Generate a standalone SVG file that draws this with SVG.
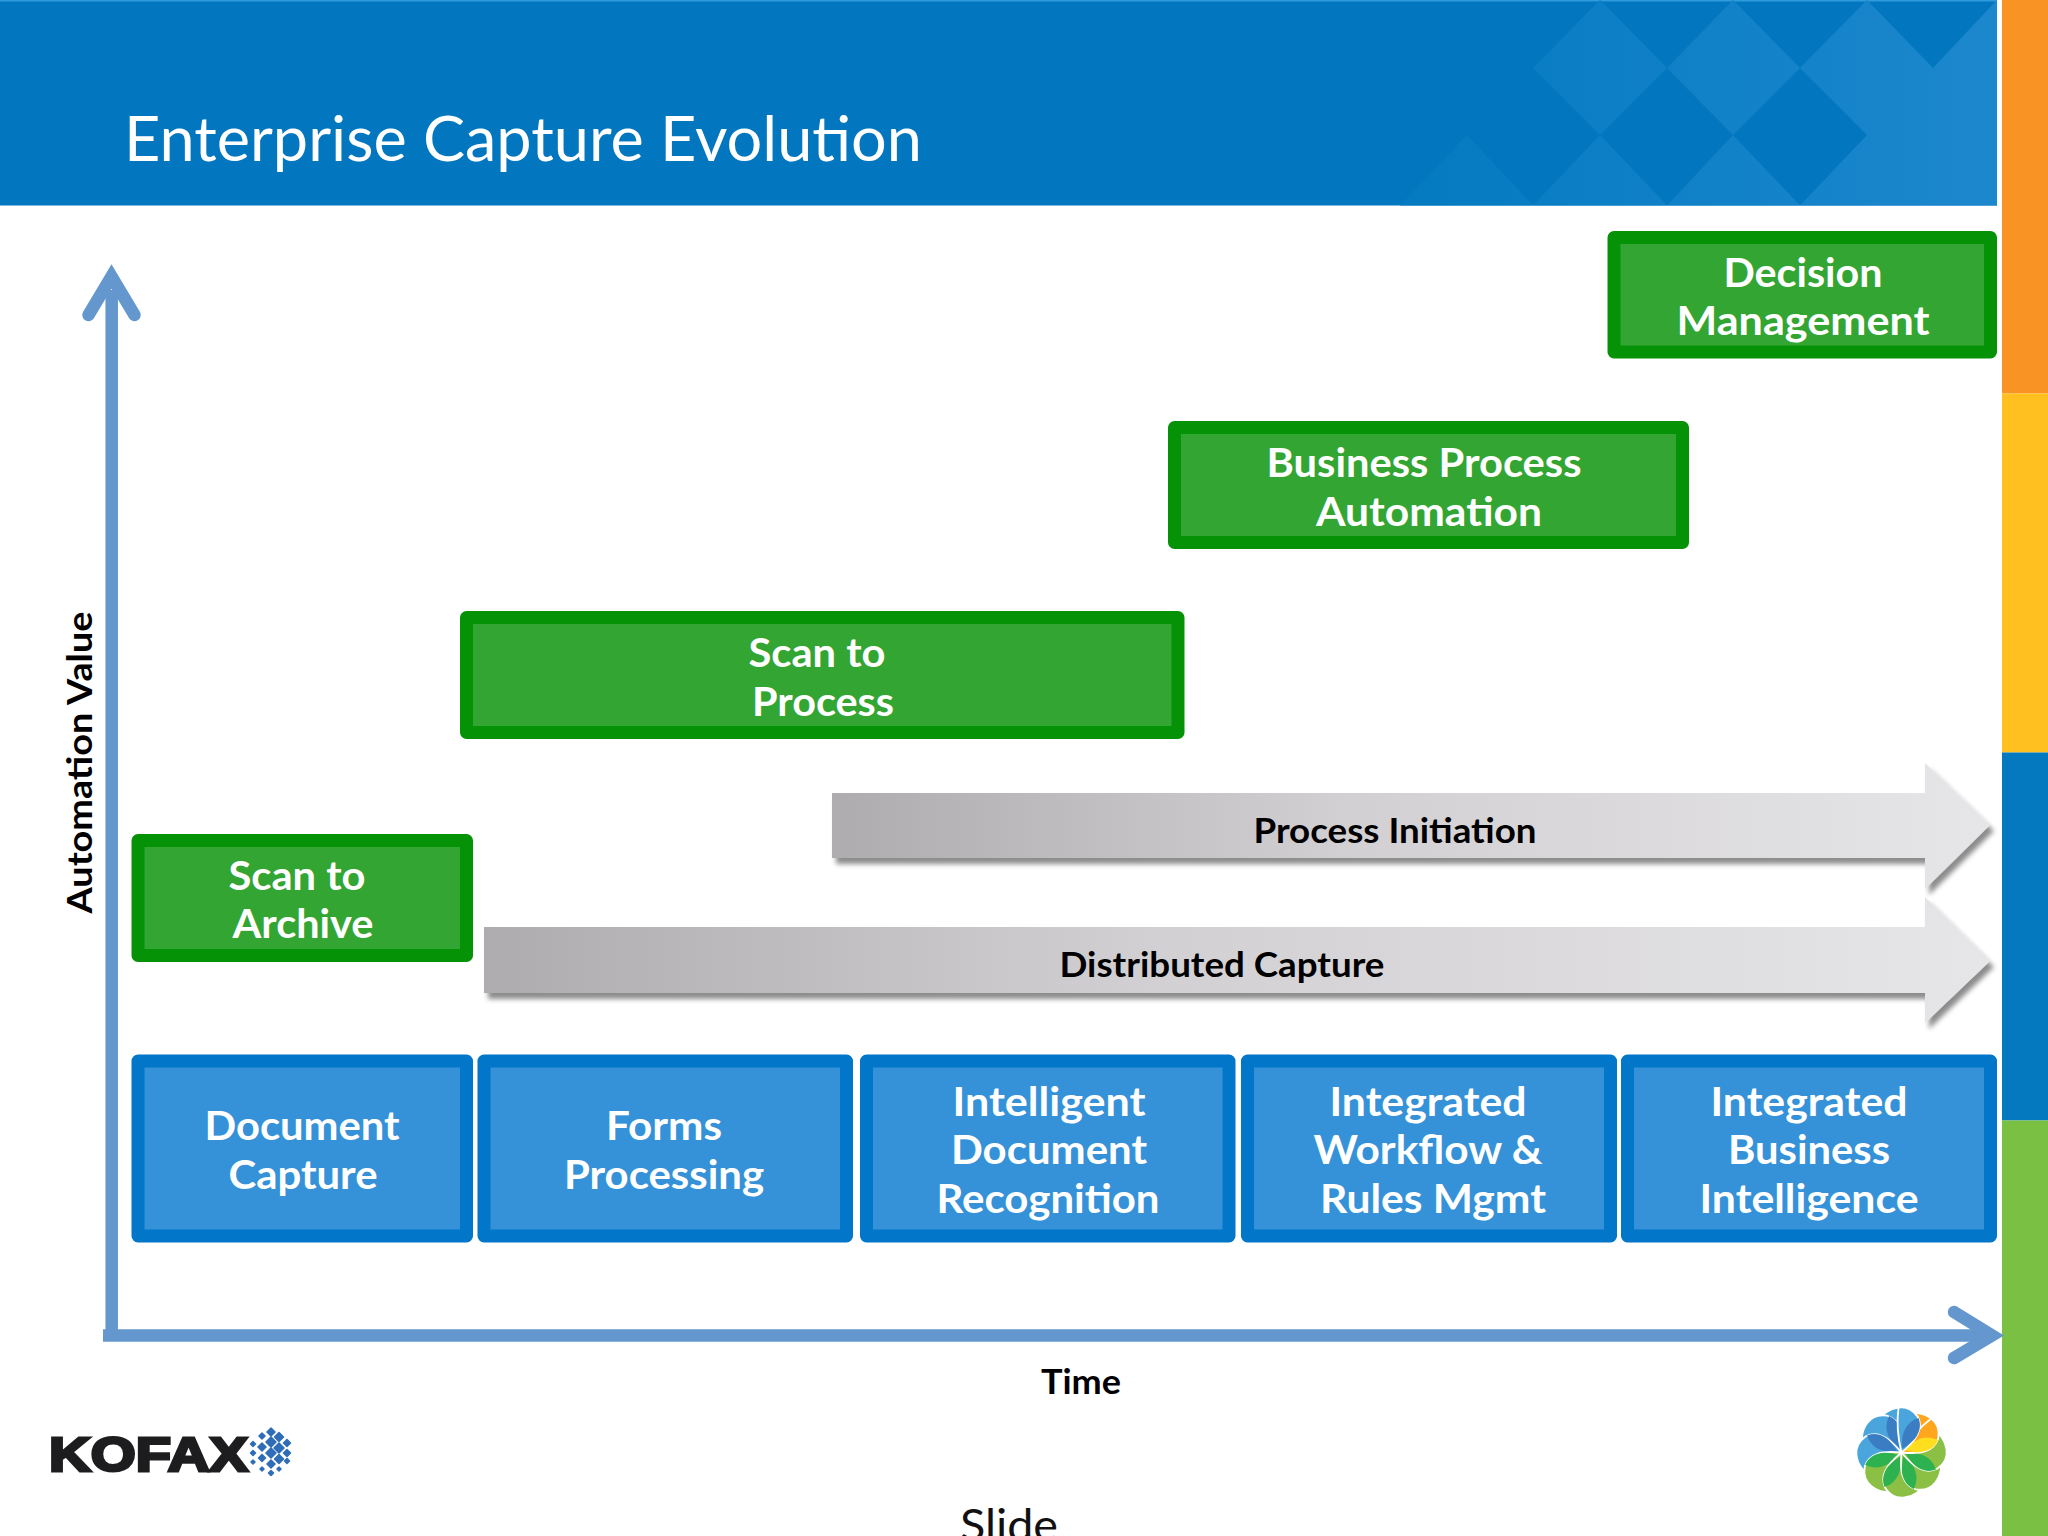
<svg xmlns="http://www.w3.org/2000/svg" width="2048" height="1536" viewBox="0 0 2048 1536">
<defs>
<linearGradient id="band" x1="0" y1="0" x2="1" y2="0"><stop offset="0" stop-color="#AEACAF"/><stop offset="0.45" stop-color="#D2D0D3"/><stop offset="1" stop-color="#E6E5E8"/></linearGradient>
<linearGradient id="hdr" gradientUnits="userSpaceOnUse" x1="1400" y1="0" x2="1997" y2="0"><stop offset="0" stop-color="#047AC1"/><stop offset="0.35" stop-color="#0D7FC6"/><stop offset="1" stop-color="#1C87CD"/></linearGradient>
<filter id="sh" x="-5%" y="-20%" width="110%" height="150%"><feDropShadow dx="4" dy="6" stdDeviation="2.5" flood-color="#000" flood-opacity="0.45"/></filter>
<path id="pf" d="M0,0 C6,-5 13,-11 16,-18 C19,-24 19,-30 16,-36 C11,-43 4,-46 -3,-45 C-12,-44 -20,-38 -24,-30 C-20,-18 -10,-6 0,0Z"/>
<path id="pn" d="M0,0 C6,-5 13,-11 16,-18 C19,-24 19,-30 16,-36 C11,-43 4,-46 -3,-45 C-5,-30 -3,-12 0,0Z"/>
<path id="pl" d="M1,-4 C-1,-16 3,-30 17,-34.500 C19,-29 19,-24 16,-18 C13,-12 7,-8 1,-4Z"/>
</defs>
<style>
text{font-family:Lato,"Liberation Sans",sans-serif}
.g{fill:#33A532;stroke:#069206;stroke-width:13;stroke-linejoin:round}
.b{fill:#3592D8;stroke:#0277C9;stroke-width:13;stroke-linejoin:round}
.t{fill:#fff;font-weight:700;font-size:41px;text-anchor:middle}
.k{fill:#000;font-weight:700;font-size:34px;text-anchor:middle}
.axis{fill:none;stroke:#6397CE;stroke-width:12.5}
.head{stroke-linecap:round;stroke-linejoin:miter}
.hl{fill:url(#hdr)}
.pb use:first-child,.pg use:first-child,.po use:first-child{stroke:#fff;stroke-width:1.8}
.pb{fill:#49A5DC}.pb use+use{fill:#3B7DC2}
.pg{fill:#8CC044}.pg use+use{fill:#2DB24F}
.po{fill:#FFA51E}.po use+use{fill:#FFDD1F}
</style>
<rect width="2048" height="1536" fill="#fff"/>
<g id="header">
<rect x="0" y="0" width="1997" height="205.500" fill="#0277BF"/>
<rect x="0" y="0" width="1997" height="1.500" fill="#2E9BDD"/>
<path class="hl" d="M1533,68 L1600,0 L1667,68 L1600,135Z M1667,68 L1733,0 L1800,68 L1733,135Z M1800,68 L1867,0 L1933,68 L1997,0 L1997,205.500 L1800,205.500 L1867,135 L1800,68Z M1400,205.500 L1467,135 L1533,205.500Z M1533,205.500 L1600,135 L1667,205.500Z M1667,205.500 L1733,135 L1800,205.500Z"/>
<text x="124" y="161" fill="#fff" font-size="62" textLength="798" lengthAdjust="spacingAndGlyphs">Enterprise Capture Evolution</text>
</g>
<g id="side-bar">
<rect x="2002" y="0" width="46" height="393.500" fill="#F99324"/>
<rect x="2002" y="393.500" width="46" height="359" fill="#FFC020"/>
<rect x="2002" y="752.500" width="46" height="368" fill="#0479BF"/>
<rect x="2002" y="1120.500" width="46" height="416" fill="#7AC143"/>
</g>
<g id="connectors">
<path class="axis" d="M111.700,290 V1335"/>
<path class="axis" d="M103,1335.500 H1990"/>
<polyline class="axis head" points="88.500,315 111.500,276.500 134.500,315"/>
<polyline class="axis head" points="1954,1312 1992,1335.500 1954,1358"/>
</g>
<g id="band-process-initiation">
<path filter="url(#sh)" fill="url(#band)" d="M832,793 H1925 V763 L1990,825 L1925,889 V858 H832Z"/>
<text class="k" x="1395" y="843" textLength="283" lengthAdjust="spacingAndGlyphs">Process Initiation</text>
</g>
<g id="band-distributed-capture">
<path filter="url(#sh)" fill="url(#band)" d="M484,927 H1925 V897 L1990,961 L1925,1023 V993 H484Z"/>
<text class="k" x="1222" y="977" textLength="325" lengthAdjust="spacingAndGlyphs">Distributed Capture</text>
</g>
<g id="node-decision-management">
<rect class="g" x="1614" y="237.500" width="376.500" height="114.500"/>
<text class="t" x="1803" y="286.500" textLength="159" lengthAdjust="spacingAndGlyphs">Decision</text>
<text class="t" x="1803" y="334.500" textLength="253" lengthAdjust="spacingAndGlyphs">Management</text>
</g>
<g id="node-business-process-automation">
<rect class="g" x="1174.500" y="427.500" width="508" height="115"/>
<text class="t" x="1424" y="477" textLength="315" lengthAdjust="spacingAndGlyphs">Business Process</text>
<text class="t" x="1429" y="525.500" textLength="226" lengthAdjust="spacingAndGlyphs">Automation</text>
</g>
<g id="node-scan-to-process">
<rect class="g" x="466.500" y="617.500" width="711.500" height="115"/>
<text class="t" x="817" y="667" textLength="137" lengthAdjust="spacingAndGlyphs">Scan to</text>
<text class="t" x="823" y="715.500" textLength="142" lengthAdjust="spacingAndGlyphs">Process</text>
</g>
<g id="node-scan-to-archive">
<rect class="g" x="138" y="840.500" width="328.500" height="115"/>
<text class="t" x="297" y="889.500" textLength="137" lengthAdjust="spacingAndGlyphs">Scan to</text>
<text class="t" x="303" y="938" textLength="141" lengthAdjust="spacingAndGlyphs">Archive</text>
</g>
<g id="node-document-capture">
<rect class="b" x="138" y="1061" width="328.500" height="175"/>
<text class="t" x="302" y="1140" textLength="195" lengthAdjust="spacingAndGlyphs">Document</text>
<text class="t" x="303" y="1188.500" textLength="149" lengthAdjust="spacingAndGlyphs">Capture</text>
</g>
<g id="node-forms-processing">
<rect class="b" x="484" y="1061" width="362.500" height="175"/>
<text class="t" x="664" y="1140" textLength="116" lengthAdjust="spacingAndGlyphs">Forms</text>
<text class="t" x="664" y="1188.500" textLength="200" lengthAdjust="spacingAndGlyphs">Processing</text>
</g>
<g id="node-intelligent-document-recognition">
<rect class="b" x="866.500" y="1061" width="362.500" height="175"/>
<text class="t" x="1049" y="1115.500" textLength="193" lengthAdjust="spacingAndGlyphs">Intelligent</text>
<text class="t" x="1049" y="1164" textLength="196" lengthAdjust="spacingAndGlyphs">Document</text>
<text class="t" x="1048" y="1212.500" textLength="223" lengthAdjust="spacingAndGlyphs">Recognition</text>
</g>
<g id="node-integrated-workflow-rules">
<rect class="b" x="1247.500" y="1061" width="363" height="175"/>
<text class="t" x="1428" y="1115.500" textLength="197" lengthAdjust="spacingAndGlyphs">Integrated</text>
<text class="t" x="1428" y="1164" textLength="229" lengthAdjust="spacingAndGlyphs">Workflow &amp;</text>
<text class="t" x="1433" y="1212.500" textLength="226" lengthAdjust="spacingAndGlyphs">Rules Mgmt</text>
</g>
<g id="node-integrated-business-intelligence">
<rect class="b" x="1627.500" y="1061" width="363" height="175"/>
<text class="t" x="1809" y="1115.500" textLength="197" lengthAdjust="spacingAndGlyphs">Integrated</text>
<text class="t" x="1809" y="1164" textLength="162" lengthAdjust="spacingAndGlyphs">Business</text>
<text class="t" x="1809" y="1212.500" textLength="219" lengthAdjust="spacingAndGlyphs">Intelligence</text>
</g>
<g id="axis-labels">
<text class="k" transform="translate(92,762.500) rotate(-90)" textLength="302" lengthAdjust="spacingAndGlyphs">Automation Value</text>
<text class="k" x="1081" y="1394" textLength="80" lengthAdjust="spacingAndGlyphs">Time</text>
<text x="1009" y="1541" font-size="45" fill="#111" text-anchor="middle" textLength="98" lengthAdjust="spacingAndGlyphs">Slide</text>
</g>
<g id="logo-kofax">
<text x="49" y="1470.500" font-size="49" font-weight="700" fill="#1D1D1F" stroke="#1D1D1F" stroke-width="3" style="font-family:'Liberation Sans',Arial,sans-serif" textLength="199" lengthAdjust="spacingAndGlyphs">KOFAX</text>
<path fill="#2F6DB8" stroke="#2F6DB8" stroke-width="1.500" stroke-linejoin="round" d="M253,1441.500l2.500,2.500l-2.500,2.500l-2.500,-2.500Z M253,1450.500l2.500,2.500l-2.500,2.500l-2.500,-2.500Z M253,1460l2,2l-2,2l-2,-2Z M262,1433l3,3l-3,3l-3,-3Z M262,1443l4,4l-4,4l-4,-4Z M262,1454.500l3.500,3.500l-3.500,3.500l-3.500,-3.500Z M262,1467l2,2l-2,2l-2,-2Z M271,1428l4,4l-4,4l-4,-4Z M271,1437l5,5l-5,5l-5,-5Z M271,1448l5,5l-5,5l-5,-5Z M271,1460l4,4l-4,4l-4,-4Z M271,1470.500l2.500,2.500l-2.500,2.500l-2.500,-2.500Z M279,1432.500l4.500,4.500l-4.500,4.500l-4.500,-4.500Z M279,1443l5,5l-5,5l-5,-5Z M279,1454.500l4.500,4.500l-4.500,4.500l-4.500,-4.500Z M279,1467l2,2l-2,2l-2,-2Z M287,1439.500l3.500,3.500l-3.500,3.500l-3.500,-3.500Z M287,1449.500l3.500,3.500l-3.500,3.500l-3.500,-3.500Z M287,1458.500l2.500,2.500l-2.500,2.500l-2.500,-2.500Z"/>
</g>
<g id="logo-flower" transform="translate(1901.500,1452.500)">
<g class="po" transform="rotate(45)"><use href="#pf"/><use href="#pl"/></g>
<g class="pb" transform="rotate(0)"><use href="#pf"/><use href="#pl"/></g>
<g class="pb" transform="rotate(-45)"><use href="#pf"/><use href="#pl"/></g>
<g class="pb" transform="rotate(-90)"><use href="#pf"/><use href="#pl"/></g>
<g class="pg" transform="rotate(-135)"><use href="#pf"/><use href="#pl"/></g>
<g class="pg" transform="rotate(180)"><use href="#pf"/><use href="#pl"/></g>
<g class="pg" transform="rotate(135)"><use href="#pf"/><use href="#pl"/></g>
<g class="pg" transform="rotate(90)"><use href="#pf"/><use href="#pl"/></g>
<g class="po" transform="rotate(45)"><use href="#pn"/><use href="#pl"/></g>
<g class="pb" transform="rotate(0)"><use href="#pn"/><use href="#pl"/></g>
</g>
</svg>
